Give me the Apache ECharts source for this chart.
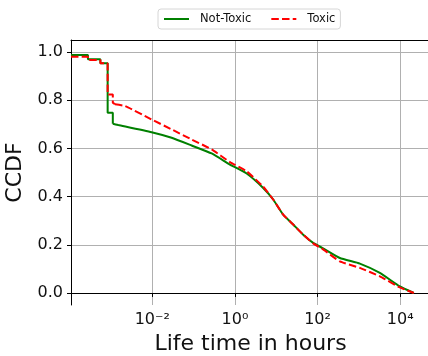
<!DOCTYPE html>
<html>
<head>
<meta charset="utf-8">
<script src="https://cdn.jsdelivr.net/npm/echarts@6/dist/echarts.min.js"></script>
<style>
  html, body { margin: 0; padding: 0; background: #fff; }
  #chart { width: 428px; height: 356px; }
</style>
</head>
<body>
<div id="chart"></div>
<script>
// Life time (hours) and CCDF for each group: the short-lived steps, then the smooth tail
const notToxicStepHours = [1.08e-4, 2.778e-4, 2.778e-4, 5.556e-4, 5.556e-4, 8.333e-4, 8.333e-4, 1.111e-3, 1.111e-3];
const notToxicStepCcdf = [0.988, 0.988, 0.970, 0.970, 0.953, 0.953, 0.748, 0.748, 0.702];
const notToxicTailHours = [1.111e-3, 1.51e-3, 9.66e-3, 0.0294, 0.0897, 0.274, 0.757, 1.92, 4.83, 8.43, 14.7, 25.7,
  44.9, 78.3, 136, 346, 1054, 3214, 9772, 21330];
const notToxicTailCcdf = [0.702, 0.697, 0.667, 0.644, 0.612, 0.579, 0.533, 0.496, 0.436, 0.388, 0.325, 0.284,
  0.242, 0.208, 0.185, 0.145, 0.122, 0.083, 0.027, 0.0];

const toxicStepHours = [1.08e-4, 2.778e-4, 2.778e-4, 5.556e-4, 5.556e-4, 8.333e-4, 8.333e-4, 1.111e-3, 1.111e-3, 1.25e-3];
const toxicStepCcdf = [0.980, 0.980, 0.967, 0.967, 0.953, 0.953, 0.824, 0.824, 0.790, 0.783];
const toxicTailHours = [1.25e-3, 2.19e-3, 9.66e-3, 0.0294, 0.0897, 0.274, 0.757, 1.92, 4.83, 8.43, 14.7, 25.7,
  44.9, 78.3, 136, 346, 1054, 3214, 9772, 21330];
const toxicTailCcdf = [0.783, 0.776, 0.720, 0.679, 0.637, 0.596, 0.543, 0.505, 0.441, 0.388, 0.325, 0.284,
  0.242, 0.206, 0.181, 0.131, 0.104, 0.069, 0.023, 0.0];

const xTicks = [0.01, 1, 100, 10000];
const yTicks = [0, 0.2, 0.4, 0.6, 0.8, 1.0];
const seriesNames = ['Not-Toxic', 'Toxic'];

const supDigits = { '-': '\u207B', '0': '\u2070', '1': '\u00B9', '2': '\u00B2', '3': '\u00B3', '4': '\u2074',
  '5': '\u2075', '6': '\u2076', '7': '\u2077', '8': '\u2078', '9': '\u2079' };
function powerLabel(v) {
  const e = String(Math.round(Math.log10(v)));
  return '10' + e.split('').map(c => supDigits[c]).join('');
}

const pairs = (xs, ys) => xs.map((x, i) => [x, ys[i]]);
const FONT = 'DejaVu Sans';
const X_MIN = Math.pow(10, -3.966);
const X_MAX = Math.pow(10, 4.72);
const GREEN = '#008000';
const RED = '#ff0000';
const DASH = [7.5, 3.2];

function curve(name, data, color, dashed, smooth) {
  return {
    name: name,
    type: 'line',
    xAxisIndex: 0,
    data: data,
    showSymbol: false,
    symbol: 'none',
    smooth: smooth,
    lineStyle: { color: color, width: 2, type: dashed ? DASH : 'solid' },
    itemStyle: { color: color }
  };
}

const chart = echarts.init(document.getElementById('chart'), null, { renderer: 'canvas' });
chart.setOption({
  animation: false,
  backgroundColor: '#fff',
  textStyle: { fontFamily: FONT },
  legend: {
    data: seriesNames,
    left: 158,
    top: 9,
    padding: [4, 5, 4, 5],
    itemWidth: 25,
    itemHeight: 13,
    itemGap: 19,
    borderColor: '#d6d6d6',
    borderWidth: 1,
    borderRadius: 3,
    backgroundColor: '#fff',
    itemStyle: { color: 'rgba(0,0,0,0)', borderWidth: 0, opacity: 0 },
    textStyle: { fontFamily: FONT, fontSize: 11.5, color: '#111', padding: [0, 0, 0, 6] }
  },
  grid: { left: 71, top: 40, width: 359, height: 265, show: false, outerBoundsMode: 'none', containLabel: false },
  xAxis: [{
    type: 'log',
    logBase: 10,
    min: X_MIN,
    max: X_MAX,
    position: 'bottom',
    name: 'Life time in hours',
    nameLocation: 'middle',
    nameGap: 24,
    nameTextStyle: { fontFamily: FONT, fontSize: 22, color: '#111' },
    axisLine: { show: true, lineStyle: { color: '#000', width: 1 } },
    axisTick: { show: true, length: 4, lineStyle: { color: '#000' }, customValues: xTicks },
    axisLabel: { show: true, fontFamily: FONT, fontSize: 16, color: '#111', margin: 7,
      customValues: xTicks, formatter: powerLabel },
    splitLine: { show: true, lineStyle: { color: '#b0b0b0', width: 1 } },
    minorTick: { show: false },
    minorSplitLine: { show: false }
  }, {
    type: 'log',
    logBase: 10,
    min: X_MIN,
    max: X_MAX,
    position: 'top',
    axisLine: { show: true, onZero: false, lineStyle: { color: '#000', width: 1 } },
    axisTick: { show: false },
    axisLabel: { show: false },
    splitLine: { show: false }
  }],
  yAxis: {
    type: 'value',
    min: -0.05,
    max: 1.05,
    name: 'CCDF',
    nameLocation: 'middle',
    nameGap: 36,
    nameTextStyle: { fontFamily: FONT, fontSize: 22, color: '#111' },
    axisLine: { show: true, onZero: false, lineStyle: { color: '#000', width: 1 } },
    axisTick: { show: true, length: 4, lineStyle: { color: '#000' }, customValues: yTicks },
    axisLabel: { show: true, fontFamily: FONT, fontSize: 16, color: '#111', margin: 8,
      customValues: yTicks, formatter: v => v.toFixed(1) },
    splitLine: { show: true, lineStyle: { color: '#b0b0b0', width: 1 } }
  },
  series: [
    curve(seriesNames[0], pairs(notToxicStepHours, notToxicStepCcdf), GREEN, false, false),
    curve(seriesNames[0], pairs(notToxicTailHours, notToxicTailCcdf), GREEN, false, 0.15),
    curve(seriesNames[1], pairs(toxicStepHours, toxicStepCcdf), RED, true, false),
    curve(seriesNames[1], pairs(toxicTailHours, toxicTailCcdf), RED, true, 0.15)
  ]
});
</script>
</body>
</html>
